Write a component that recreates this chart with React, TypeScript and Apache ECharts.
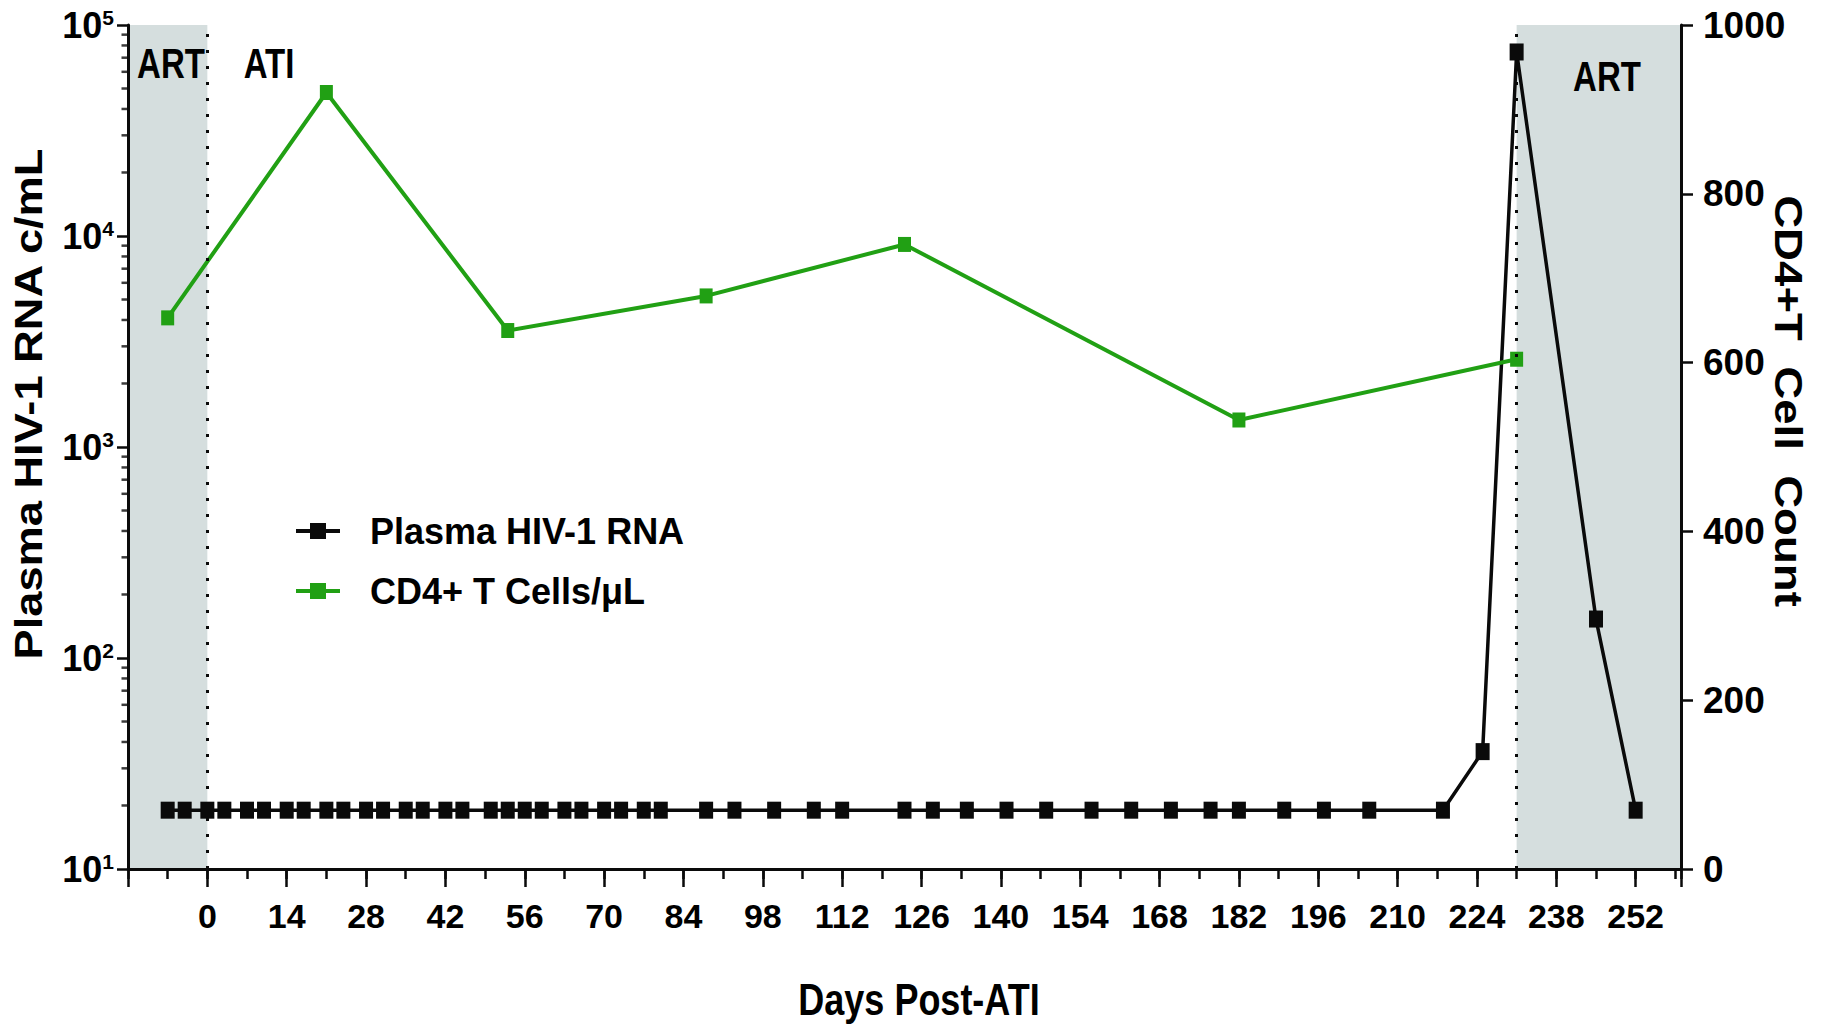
import React, { useEffect, useRef } from 'react';
import * as echarts from 'echarts';

// ---------------- data ----------------
const RNA_DAYS = [
  -7, -4, 0, 3, 7, 10, 14, 17, 21, 24, 28, 31, 35, 38, 42, 45, 50, 53, 56, 59,
  63, 66, 70, 73, 77, 80, 88, 93, 100, 107, 112, 123, 128, 134, 141, 148, 156,
  163, 170, 177, 182, 190, 197, 205, 218, 225, 231, 245, 252,
];
const RNA_VALUES = [
  19, 19, 19, 19, 19, 19, 19, 19, 19, 19, 19, 19, 19, 19, 19, 19, 19, 19, 19, 19,
  19, 19, 19, 19, 19, 19, 19, 19, 19, 19, 19, 19, 19, 19, 19, 19, 19,
  19, 19, 19, 19, 19, 19, 19, 19, 36, 74500, 153, 19,
];
const CD4_DAYS = [-7, 21, 53, 88, 123, 182, 231];
const CD4_VALUES = [653, 920, 638, 679, 740, 532, 604];

const LOG_MINOR_TICKS = [
  20, 30, 40, 50, 60, 70, 80, 90,
  200, 300, 400, 500, 600, 700, 800, 900,
  2000, 3000, 4000, 5000, 6000, 7000, 8000, 9000,
  20000, 30000, 40000, 50000, 60000, 70000, 80000, 90000,
];

const ART_PERIODS = [
  [-14, 0],
  [231, 260],
];
const PHASE_LINES = [0, 231];

const X_MIN = -14;
const X_MAX = 260;
const X_LABEL_MAX = 252;

const SERIES_NAMES = ['Plasma HIV-1 RNA', 'CD4+ T Cells/\u03bcL'];

// ---------------- style ----------------
const FONT = "'Liberation Sans Narrow', 'Liberation Sans', Arial, sans-serif";
const BLACK = '#0a0a0a';
const GREEN = '#21a014';
const SHADE = '#d5dede';

function textEl(
  text: string,
  x: number,
  y: number,
  fontSize: number,
  opts: { rotation?: number; scaleX?: number; scaleY?: number } = {},
) {
  return {
    type: 'text',
    x,
    y,
    z: 100,
    zlevel: 0,
    rotation: opts.rotation ?? 0,
    scaleX: opts.scaleX ?? 1,
    scaleY: opts.scaleY ?? 1,
    silent: true,
    style: {
      text,
      fontFamily: FONT,
      fontWeight: 'bold',
      fontSize,
      fill: '#000',
      textAlign: 'center',
      textVerticalAlign: 'middle',
      align: 'center',
      verticalAlign: 'middle',
    },
  };
}

function buildOption() {
  const rnaData = RNA_DAYS.map((d, i) => [d, RNA_VALUES[i]]);
  const cd4Data = CD4_DAYS.map((d, i) => [d, CD4_VALUES[i]]);
  const minorData = LOG_MINOR_TICKS.map((v) => [X_MIN, v]);

  return {
    animation: false,
    backgroundColor: '#ffffff',
    grid: {
      left: 128,
      right: 143,
      top: 25,
      bottom: 156,
      containLabel: false,
      outerBoundsMode: 'none',
    },
    legend: {
      data: SERIES_NAMES,
      orient: 'vertical',
      left: 289,
      top: 508,
      itemWidth: 44,
      itemHeight: 20,
      itemGap: 24,
      selectedMode: false,
      lineStyle: { width: 4 },
      textStyle: {
        fontFamily: FONT,
        fontWeight: 'bold',
        fontSize: 36,
        color: '#000',
        padding: [0, 0, 0, 25],
      },
    },
    xAxis: [
      {
        type: 'value',
        min: X_MIN,
        max: X_MAX,
        interval: 14,
        position: 'bottom',
        z: 6,
        axisLine: { show: true, onZero: false, lineStyle: { color: BLACK, width: 3 } },
        axisTick: { show: true, length: 18, lineStyle: { color: BLACK, width: 2.5 } },
        splitLine: { show: false },
        axisLabel: {
          show: true,
          margin: 30,
          hideOverlap: false,
          showMinLabel: true,
          showMaxLabel: true,
          fontFamily: FONT,
          fontWeight: 'bold',
          fontSize: 34,
          color: '#000',
          formatter: (v: number) => (v >= 0 && v <= X_LABEL_MAX ? String(v) : ''),
        },
      },
      {
        type: 'value',
        min: X_MIN,
        max: X_MAX,
        interval: 7,
        position: 'bottom',
        z: 6,
        axisLine: { show: false, onZero: false },
        axisTick: { show: true, length: 10, lineStyle: { color: BLACK, width: 2.5 } },
        splitLine: { show: false },
        axisLabel: { show: false },
      },
    ],
    yAxis: [
      {
        type: 'log',
        logBase: 10,
        min: 10,
        max: 100000,
        interval: 1,
        position: 'left',
        z: 6,
        axisLine: { show: true, onZero: false, lineStyle: { color: BLACK, width: 3 } },
        axisTick: { show: true, length: 11, lineStyle: { color: BLACK, width: 2.5 } },
        splitLine: { show: false },
        axisLabel: {
          margin: 14,
          formatter: (v: number) => `{b|10}{s|${Math.round(Math.log10(v))}}`,
          rich: {
            b: { fontFamily: FONT, fontWeight: 'bold', fontSize: 36, color: '#000' },
            s: { fontFamily: FONT, fontWeight: 'bold', fontSize: 21, color: '#000', verticalAlign: 'top' },
          },
        },
      },
      {
        type: 'value',
        min: 0,
        max: 1000,
        interval: 200,
        position: 'right',
        z: 6,
        axisLine: { show: true, onZero: false, lineStyle: { color: BLACK, width: 3 } },
        axisTick: { show: true, length: 12, lineStyle: { color: BLACK, width: 2.5 } },
        splitLine: { show: false },
        axisLabel: {
          margin: 22,
          fontFamily: FONT,
          fontWeight: 'bold',
          fontSize: 37,
          color: '#000',
          formatter: (v: number) => String(v),
        },
      },
    ],
    series: [
      {
        name: SERIES_NAMES[0],
        type: 'line',
        xAxisIndex: 0,
        yAxisIndex: 0,
        data: rnaData,
        symbol: 'rect',
        symbolSize: [14, 17],
        itemStyle: { color: BLACK },
        lineStyle: { color: BLACK, width: 3.5 },
        z: 3,
        markArea: {
          silent: true,
          itemStyle: { color: SHADE },
          label: { show: false },
          data: ART_PERIODS.map(([a, b]) => [{ xAxis: a }, { xAxis: b }]),
        },
        markLine: {
          silent: true,
          symbol: ['none', 'none'],
          label: { show: false },
          lineStyle: { color: BLACK, type: [3, 13], width: 3, cap: 'butt' },
          data: PHASE_LINES.map((d) => ({ xAxis: d })),
        },
      },
      {
        name: SERIES_NAMES[1],
        type: 'line',
        xAxisIndex: 0,
        yAxisIndex: 1,
        data: cd4Data,
        symbol: 'rect',
        symbolSize: [13, 15],
        itemStyle: { color: GREEN },
        lineStyle: { color: GREEN, width: 4 },
        z: 4,
      },
      {
        name: 'logMinorTicks',
        type: 'scatter',
        xAxisIndex: 0,
        yAxisIndex: 0,
        silent: true,
        clip: false,
        z: 7,
        data: minorData,
        symbol: 'rect',
        symbolSize: [6.5, 2.5],
        symbolOffset: [-3.25, 0],
        itemStyle: { color: BLACK },
      },
    ],
    graphic: [
      textEl('ART', 171, 64, 33, { scaleY: 1.28 }),
      textEl('ATI', 269, 64, 33, { scaleY: 1.28 }),
      textEl('ART', 1607, 77, 33, { scaleY: 1.28 }),
      textEl('Plasma HIV-1 RNA c/mL', 29, 404, 38, { rotation: Math.PI / 2, scaleX: 1.19 }),
      textEl('CD4+T  Cell  Count', 1788, 401, 38, { rotation: -Math.PI / 2, scaleX: 1.2 }),
      textEl('Days Post-ATI', 919, 1000, 36, { scaleY: 1.25 }),
    ],
  };
}

export default function App() {
  const ref = useRef<HTMLDivElement>(null);
  useEffect(() => {
    document.body.style.margin = '0';
    if (!ref.current) return;
    const chart = echarts.init(ref.current, null, { renderer: 'svg' });
    chart.setOption(buildOption() as any);
    return () => {
      chart.dispose();
    };
  }, []);
  return (
    <div
      ref={ref}
      style={{ position: 'absolute', left: 0, top: 0, width: 1824, height: 1025, background: '#ffffff' }}
    />
  );
}
